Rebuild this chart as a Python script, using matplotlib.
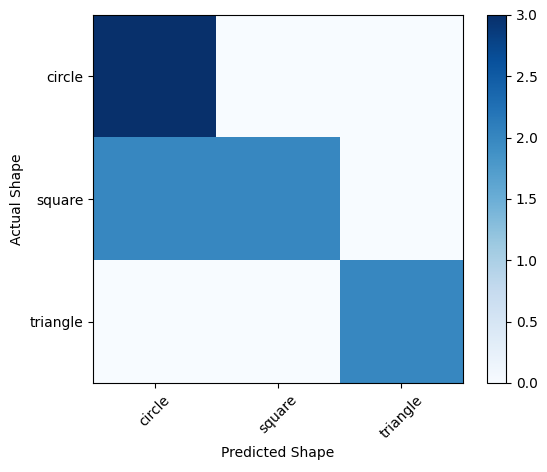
import numpy as np
import matplotlib
matplotlib.use('Agg')
import matplotlib.pyplot as plt

classes = ['circle', 'square', 'triangle']
cm = np.array([[3, 0, 0],
               [2, 2, 0],
               [0, 0, 2]])

fig = plt.figure(figsize=(5.47, 4.72), dpi=100)
ax = fig.add_axes([93/547, 89/472, 370/547, 368/472])
cax = fig.add_axes([487/547, 89/472, 19/547, 368/472])

im = ax.imshow(cm, interpolation='nearest', cmap=plt.cm.Blues, aspect='auto')
fig.colorbar(im, cax=cax)

ticks = np.arange(len(classes))
ax.set_xticks(ticks)
ax.set_xticklabels(classes, rotation=45)
ax.set_yticks(ticks)
ax.set_yticklabels(classes)
ax.set_xlabel('Predicted Shape')
ax.set_ylabel('Actual Shape')

fig.savefig('out.png', dpi=100)
